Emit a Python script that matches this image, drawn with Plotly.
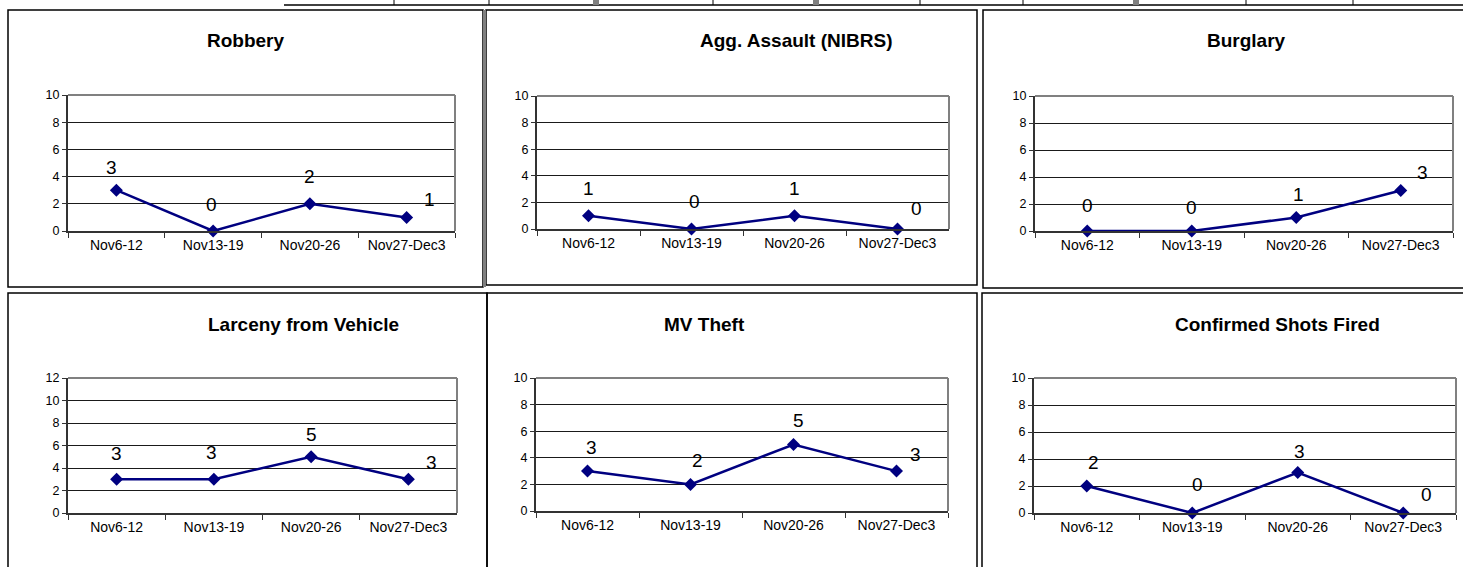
import plotly.graph_objects as go

W, H = 1463, 567

weeks = ["Nov6-12", "Nov13-19", "Nov20-26", "Nov27-Dec3"]

robbery = [3, 0, 2, 1]
agg_assault = [1, 0, 1, 0]
burglary = [0, 0, 1, 3]
larceny_vehicle = [3, 3, 5, 3]
mv_theft = [3, 2, 5, 3]
shots_fired = [2, 0, 3, 0]

titles = ["Robbery", "Agg. Assault (NIBRS)", "Burglary",
          "Larceny from Vehicle", "MV Theft", "Confirmed Shots Fired"]
series = [robbery, agg_assault, burglary, larceny_vehicle, mv_theft, shots_fired]
y_max = [10, 10, 10, 12, 10, 10]

# layout in pixels: plot area (left, right, top, bottom), title centre, panel box
plot_px = [(68, 455, 95, 231), (537, 949, 96, 229), (1035, 1453, 96, 231),
           (68, 457, 378, 513), (536, 948, 378, 511), (1034, 1456, 378, 513)]
title_px = [(246, 41), (796, 41), (1246, 41), (303, 324), (704, 324), (1277, 324)]
panel_px = [(8, 483, 10, 287), (486, 977, 10, 285), (983, 1475, 10, 288),
            (8, 487, 293, 575), (487, 977, 293, 575), (982, 1475, 293, 575)]
# per-point data label offsets (dx right, dy up) in pixels
label_off = [
    [(-5, 23), (-2, 27), (0, 27), (23, 18)],
    [(0, 27), (3, 28), (0, 27), (19, 21)],
    [(0, 26), (0, 24), (2, 23), (22, 18)],
    [(0, 26), (-2, 27), (0, 22), (23, 17)],
    [(4, 24), (7, 24), (5, 24), (19, 17)],
    [(7, 24), (5, 29), (2, 21), (23, 19)],
]

FONT = "Arial, Liberation Sans, sans-serif"
NAVY = "#000080"


def px(x):
    return x / W


def py(y):
    return 1 - y / H


def pline(x0, y0, x1, y1, color="black", width=1.5, layer="above"):
    return dict(type="line", xref="paper", yref="paper",
                x0=px(x0), x1=px(x1), y0=py(y0), y1=py(y1),
                line=dict(color=color, width=width), layer=layer)


fig = go.Figure()
shapes = []
annotations = []

for i, (vals, title, ymax) in enumerate(zip(series, titles, y_max)):
    n = i + 1
    xa = "x" if n == 1 else f"x{n}"
    ya = "y" if n == 1 else f"y{n}"
    l, r, t, b = plot_px[i]

    fig.add_trace(go.Scatter(
        x=weeks, y=vals, xaxis=xa, yaxis=ya, mode="lines+markers",
        line=dict(color=NAVY, width=2.5),
        marker=dict(symbol="diamond", size=10, color=NAVY),
        cliponaxis=False, showlegend=False, hoverinfo="skip",
    ))

    fig.update_layout({
        f"xaxis{'' if n == 1 else n}": dict(
            domain=[px(l), px(r)], anchor=ya, type="category",
            range=[-0.5, len(weeks) - 0.5], tickson="boundaries",
            ticks="outside", ticklen=5, tickcolor="#333333", tickwidth=1,
            showline=True, linecolor="#333333", linewidth=2,
            showgrid=False, zeroline=False, automargin=False,
            tickfont=dict(family=FONT, size=14, color="black"),
        ),
        f"yaxis{'' if n == 1 else n}": dict(
            domain=[py(b), py(t)], anchor=xa, range=[0, ymax], dtick=2,
            ticks="outside", ticklen=4, tickcolor="#333333", tickwidth=1,
            showline=True, linecolor="#333333", linewidth=2,
            showgrid=True, gridcolor="#1a1a1a", gridwidth=1, zeroline=False,
            automargin=False,
            tickfont=dict(family=FONT, size=12.5, color="black"),
        ),
    })

    # plot area border: grey top and right edges
    shapes.append(pline(l, t, r, t, color="#808080", width=2))
    shapes.append(pline(r, t, r, b, color="#808080", width=2))

    # value labels
    for k, (cat, v) in enumerate(zip(weeks, vals)):
        dx, dy = label_off[i][k]
        annotations.append(dict(
            xref=xa, yref=ya, x=cat, y=v, text=str(v), showarrow=False,
            xshift=dx, yshift=dy, xanchor="center", yanchor="middle",
            font=dict(family=FONT, size=19, color="black"),
        ))

    # chart title
    tx, ty = title_px[i]
    annotations.append(dict(
        xref="paper", yref="paper", x=px(tx), y=py(ty), text=f"<b>{title}</b>",
        showarrow=False, xanchor="center", yanchor="middle",
        font=dict(family=FONT, size=19, color="black"),
    ))

    # panel frame
    x0, x1, y0, y1 = panel_px[i]
    shapes.append(dict(type="rect", xref="paper", yref="paper",
                       x0=px(x0), x1=px(x1), y0=py(y1), y1=py(y0),
                       line=dict(color="black", width=1.5), layer="below"))

# grey edge between the two top-left frames
shapes.append(pline(484.5, 10, 484.5, 287, color="#808080", width=3, layer="below"))

# strip of table border above the charts
shapes.append(pline(284, 5, 1463, 5, width=1.5))
for xv in [394, 489, 713, 920, 1023, 1246, 1353]:
    shapes.append(pline(xv, 0, xv, 5, width=1))
for xv in [596, 816, 1136]:
    shapes.append(dict(type="rect", xref="paper", yref="paper",
                       x0=px(xv - 3), x1=px(xv + 3), y0=py(5), y1=py(0),
                       fillcolor="#808080", line=dict(width=0)))

fig.update_layout(
    width=W, height=H,
    margin=dict(l=0, r=0, t=0, b=0, pad=0, autoexpand=False),
    paper_bgcolor="white", plot_bgcolor="white",
    shapes=shapes, annotations=annotations,
    font=dict(family=FONT, color="black"),
)

fig.write_html("out.html")
